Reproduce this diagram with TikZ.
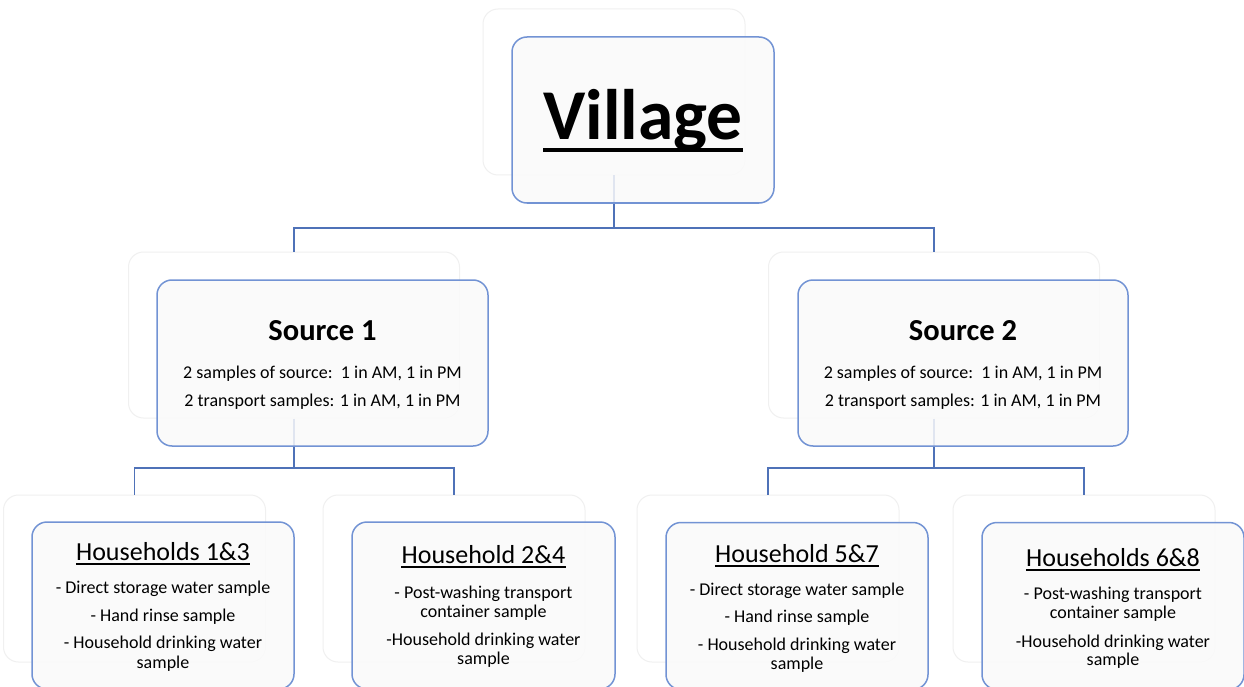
\documentclass[tikz,border=0pt]{standalone}
\usepackage{fontspec}
\setmainfont{Carlito}
\usetikzlibrary{calc}
\definecolor{bordc}{RGB}{114,147,212}
\definecolor{connc}{RGB}{79,114,184}
\definecolor{ghostc}{RGB}{240,240,240}
\definecolor{boxfill}{RGB}{250,250,250}
\tikzset{
  ghost/.style={draw=ghostc, line width=1pt, rounded corners=15pt, inner sep=0pt},
  front/.style={draw=bordc, line width=1.5pt, rounded corners=15pt, fill=boxfill, fill opacity=0.85, inner sep=0pt},
  conn/.style={draw=connc, line width=1.5pt},
  txt/.style={anchor=base, inner sep=0pt, text=black},
  bigt/.style={txt, font=\bfseries\fontsize{71.5}{86}\selectfont},
  srct/.style={txt, font=\bfseries\fontsize{30.5}{36}\selectfont},
  hht/.style={txt, font=\fontsize{26}{31}\selectfont},
  body/.style={txt, font=\fontsize{18}{22}\selectfont},
  uline/.style={line width=1.6pt, black}
}
\begin{document}
\begin{tikzpicture}[x=1pt,y=-1pt]
\clip (0,0) rectangle (1244,687);
\fill[white] (0,0) rectangle (1244,687);
% ghost boxes
\node[ghost, minimum width=262pt, minimum height=166pt] (vb) at (614,92) {};
\node[ghost, minimum width=331pt, minimum height=166pt] (s1b) at (294,335) {};
\node[ghost, minimum width=331pt, minimum height=166pt] (s2b) at (934,335) {};
\node[ghost, minimum width=262pt, minimum height=167pt] (h13b) at (134.5,578.5) {};
\node[ghost, minimum width=262pt, minimum height=167pt] (h24b) at (454,578.5) {};
\node[ghost, minimum width=262pt, minimum height=167pt] (h57b) at (768,578.5) {};
\node[ghost, minimum width=262pt, minimum height=167pt] (h68b) at (1084,578.5) {};
% connectors
\coordinate (j0) at (614,228);
\draw[conn] (vb.south) -- (j0);
\draw[conn] (s1b.north) |- (j0) -| (s2b.north);
\coordinate (j1) at (294,468);
\draw[conn] (s1b.south) -- (j1);
\draw[conn] (h13b.north) |- (j1) -| (h24b.north);
\coordinate (j2) at (934,468);
\draw[conn] (s2b.south) -- (j2);
\draw[conn] (h57b.north) |- (j2) -| (h68b.north);
% front boxes
\node[front, minimum width=262pt, minimum height=166pt] (v) at (643,120) {};
\node[front, minimum width=331pt, minimum height=166pt] (s1) at (322.5,363) {};
\node[front, minimum width=330pt, minimum height=166pt] (s2) at (963,363) {};
\node[front, minimum width=262pt, minimum height=167pt] (h13) at (163,605.5) {};
\node[front, minimum width=263pt, minimum height=167pt] (h24) at (483.5,605.5) {};
\node[front, minimum width=262pt, minimum height=167pt] (h57) at (797,606) {};
\node[front, minimum width=262pt, minimum height=167pt] (h68) at (1113,606) {};
% Village
\node[bigt] (vt) at (643,140) {Village};
\draw[line width=4pt] ($(vt.base west)+(0,10)$) -- ($(vt.base east)+(0,10)$);
% Source 1
\node[srct] (s1t) at (322.5,340) {Source 1};
\node[body] (s1a) at (322.5,378) {2 samples of source:\, 1 in AM, 1 in PM};
\node[body] (s1c) at (322.5,406) {2 transport samples: 1 in AM, 1 in PM};
% Source 2
\node[srct] (s2t) at (963,340) {Source 2};
\node[body] (s2a) at (963,378) {2 samples of source:\, 1 in AM, 1 in PM};
\node[body] (s2c) at (963,406) {2 transport samples: 1 in AM, 1 in PM};
% Households 1&3
\node[hht] (h13t) at (163,560) {Households 1\&3};
\draw[uline] ($(h13t.base west)+(0,4)$) -- ($(h13t.base east)+(0,4)$);
\node[body] (h13a) at (163,593) {- Direct storage water sample};
\node[body] (h13c) at (163,621) {- Hand rinse sample};
\node[body] (h13d) at (163,648) {- Household drinking water};
\node[body] (h13e) at (163,668) {sample};
% Household 2&4
\node[hht] (h24t) at (483.5,563) {Household 2\&4};
\draw[uline] ($(h24t.base west)+(0,4)$) -- ($(h24t.base east)+(0,4)$);
\node[body] (h24a) at (483.5,598) {- Post-washing transport};
\node[body] (h24c) at (483.5,617) {container sample};
\node[body] (h24d) at (483.5,645) {-Household drinking water};
\node[body] (h24e) at (483.5,664) {sample};
% Household 5&7
\node[hht] (h57t) at (797,562) {Household 5\&7};
\draw[uline] ($(h57t.base west)+(0,4)$) -- ($(h57t.base east)+(0,4)$);
\node[body] (h57a) at (797,595) {- Direct storage water sample};
\node[body] (h57c) at (797,622) {- Hand rinse sample};
\node[body] (h57d) at (797,650) {- Household drinking water};
\node[body] (h57e) at (797,669) {sample};
% Households 6&8
\node[hht] (h68t) at (1113,566) {Households 6\&8};
\draw[uline] ($(h68t.base west)+(0,4)$) -- ($(h68t.base east)+(0,4)$);
\node[body] (h68a) at (1113,599) {- Post-washing transport};
\node[body] (h68c) at (1113,618) {container sample};
\node[body] (h68d) at (1113,647) {-Household drinking water};
\node[body] (h68e) at (1113,665) {sample};
\end{tikzpicture}
\end{document}
